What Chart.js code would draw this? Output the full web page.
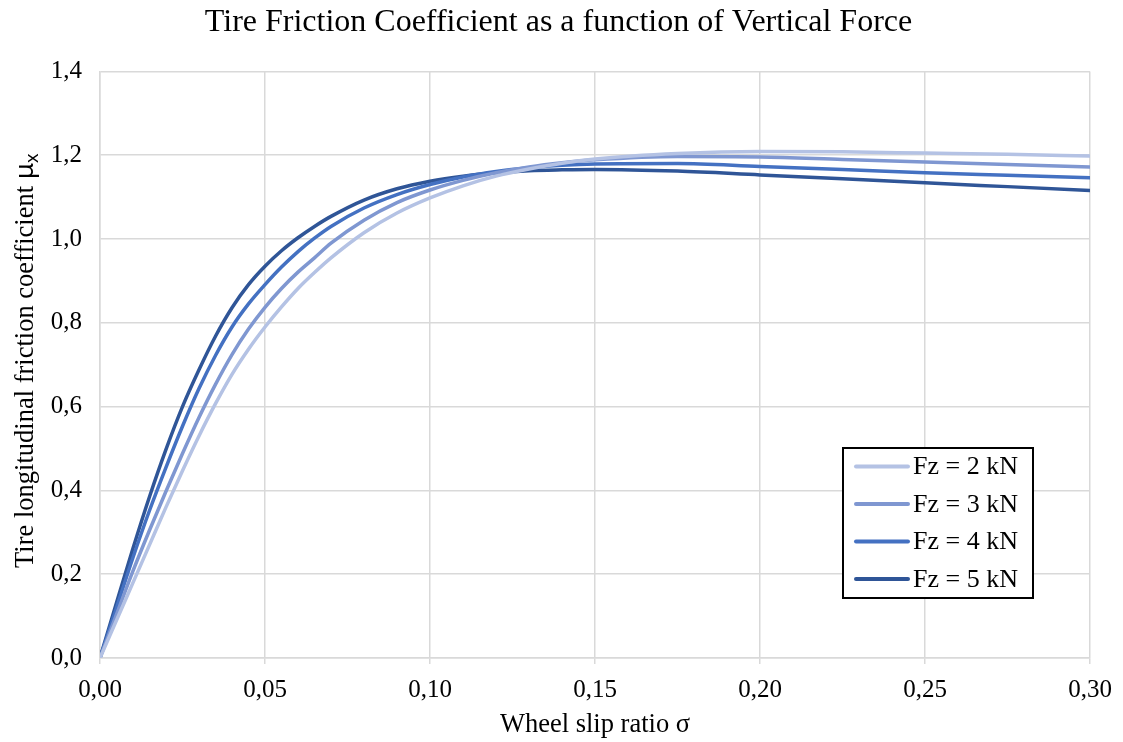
<!DOCTYPE html>
<html>
<head>
<meta charset="utf-8">
<script src="https://cdn.jsdelivr.net/npm/chart.js@4/dist/chart.umd.min.js"></script>
<style>
  html, body { margin: 0; padding: 0; background: #fff; }
  #wrap { width: 1123px; height: 742px; }
</style>
</head>
<body>
<div id="wrap"><canvas id="chart"></canvas></div>
<script>
// slip ratio samples
const slip = [0, 0.005, 0.01, 0.015, 0.02, 0.025, 0.03, 0.035, 0.04, 0.045,
  0.05, 0.055, 0.06, 0.065, 0.07, 0.08, 0.09, 0.10, 0.11, 0.12,
  0.13, 0.14, 0.15, 0.175, 0.20, 0.225, 0.25, 0.275, 0.30];

// friction coefficient per vertical load
const fz2 = [0, 0.09, 0.18, 0.27, 0.36, 0.447, 0.53, 0.607, 0.677, 0.737,
  0.79, 0.838, 0.882, 0.92, 0.955, 1.015, 1.062, 1.098, 1.127, 1.15,
  1.167, 1.181, 1.191, 1.204, 1.209, 1.208, 1.205, 1.202, 1.198];
const fz3 = [0, 0.104, 0.208, 0.305, 0.398, 0.488, 0.574, 0.653, 0.724, 0.785,
  0.837, 0.882, 0.921, 0.955, 0.99, 1.045, 1.087, 1.117, 1.14, 1.158,
  1.172, 1.182, 1.189, 1.197, 1.196, 1.19, 1.184, 1.178, 1.172];
const fz4 = [0, 0.12, 0.24, 0.352, 0.455, 0.553, 0.643, 0.722, 0.79, 0.845,
  0.891, 0.933, 0.97, 1.002, 1.03, 1.074, 1.106, 1.13, 1.148, 1.161,
  1.17, 1.176, 1.179, 1.18, 1.173, 1.166, 1.158, 1.152, 1.146];
const fz5 = [0, 0.132, 0.262, 0.385, 0.498, 0.60, 0.688, 0.768, 0.836, 0.891,
  0.935, 0.972, 1.003, 1.03, 1.054, 1.093, 1.12, 1.138, 1.15, 1.158,
  1.163, 1.165, 1.166, 1.162, 1.153, 1.144, 1.134, 1.125, 1.116];

const seriesNames = ["Fz = 2 kN", "Fz = 3 kN", "Fz = 4 kN", "Fz = 5 kN"];
const seriesColors = ["#b4c2e4", "#7f97d1", "#4471c2", "#2f5597"];
const seriesValues = [fz2, fz3, fz4, fz5];

const serif = "'Liberation Serif', 'Times New Roman', serif";

const datasets = [];
for (let i = 0; i < seriesValues.length; i++) {
  datasets.push({
    label: seriesNames[i],
    data: slip.map((s, j) => ({x: s, y: seriesValues[i][j]})),
    borderColor: seriesColors[i],
    backgroundColor: seriesColors[i],
    borderWidth: 3.5,
    pointRadius: 0,
    cubicInterpolationMode: "monotone",
    borderCapStyle: "round",
  });
}

// legend box drawn inside the plot, bottom right
const boxLegend = {
  id: "boxLegend",
  afterDraw(chart) {
    const {ctx, chartArea} = chart;
    const w = 190, h = 150;
    const x0 = chartArea.right - 57 - w;
    const y0 = chartArea.bottom - 60 - h;
    ctx.save();
    ctx.fillStyle = "#fff";
    ctx.fillRect(x0, y0, w, h);
    ctx.strokeStyle = "#000";
    ctx.lineWidth = 2;
    ctx.strokeRect(x0, y0, w, h);
    ctx.font = "26px " + serif;
    ctx.textBaseline = "middle";
    chart.data.datasets.forEach((ds, i) => {
      const y = y0 + 18.5 + i * 37.5;
      ctx.strokeStyle = ds.borderColor;
      ctx.lineWidth = 4;
      ctx.lineCap = "round";
      ctx.beginPath();
      ctx.moveTo(x0 + 13, y);
      ctx.lineTo(x0 + 65, y);
      ctx.stroke();
      ctx.fillStyle = "#000";
      ctx.fillText(ds.label, x0 + 70, y + 1);
    });
    ctx.restore();
  }
};

// vertical axis title with subscript
const yTitle = {
  id: "yTitle",
  afterDraw(chart) {
    const {ctx, chartArea} = chart;
    const main = "Tire longitudinal friction coefficient ";
    ctx.save();
    ctx.font = "26.5px " + serif;
    const w1 = ctx.measureText(main).width;
    ctx.font = "26px 'Noto Sans', sans-serif";
    const w2 = ctx.measureText("μ").width;
    ctx.font = "18px 'Noto Sans', sans-serif";
    const w3 = ctx.measureText("x").width;
    const total = w1 + w2 + w3;
    ctx.translate(24, (chartArea.top + chartArea.bottom) / 2 - 4);
    ctx.rotate(-Math.PI / 2);
    ctx.fillStyle = "#000";
    ctx.textBaseline = "alphabetic";
    let x = -total / 2;
    ctx.font = "26.5px " + serif;
    ctx.fillText(main, x, 9);
    x += w1;
    ctx.font = "26px 'Noto Sans', sans-serif";
    ctx.fillText("μ", x, 9);
    x += w2;
    ctx.font = "18px 'Noto Sans', sans-serif";
    ctx.fillText("x", x, 14);
    ctx.restore();
  }
};

new Chart(document.getElementById("chart"), {
  type: "line",
  data: { datasets: datasets },
  plugins: [boxLegend, yTitle],
  options: {
    responsive: true,
    maintainAspectRatio: false,
    animation: false,
    layout: { padding: { left: 27, right: 33, top: 0, bottom: 0 } },
    plugins: {
      legend: { display: false },
      tooltip: { enabled: false },
      title: {
        display: true,
        text: "Tire Friction Coefficient as a function of Vertical Force",
        color: "#000",
        font: { family: serif, size: 32, weight: "normal" },
        padding: { top: 3, bottom: 30 },
      },
    },
    scales: {
      x: {
        type: "linear",
        min: 0,
        max: 0.3,
        afterFit: (scale) => { scale.height = 84; },
        ticks: {
          stepSize: 0.05,
          color: "#000",
          padding: 11,
          font: { family: serif, size: 25 },
          maxRotation: 0,
          callback: (v) => v.toFixed(2).replace(".", ","),
        },
        grid: { color: "#d9d9d9", lineWidth: 1.5, tickLength: 6 },
        border: { color: "#d9d9d9", width: 1.5 },
        title: {
          display: true,
          text: "Wheel slip ratio σ",
          color: "#000",
          font: { family: serif, size: 26.5 },
          padding: { top: 0, bottom: 1 },
        },
      },
      y: {
        min: 0,
        max: 1.4,
        afterFit: (scale) => { scale.width = 73; },
        ticks: {
          stepSize: 0.2,
          color: "#000",
          padding: 18,
          font: { family: serif, size: 25 },
          callback: (v) => v.toFixed(1).replace(".", ","),
        },
        grid: { color: "#d9d9d9", lineWidth: 1.5, drawTicks: false },
        border: { color: "#d9d9d9", width: 1.5 },
      },
    },
  },
});
</script>
</body>
</html>
